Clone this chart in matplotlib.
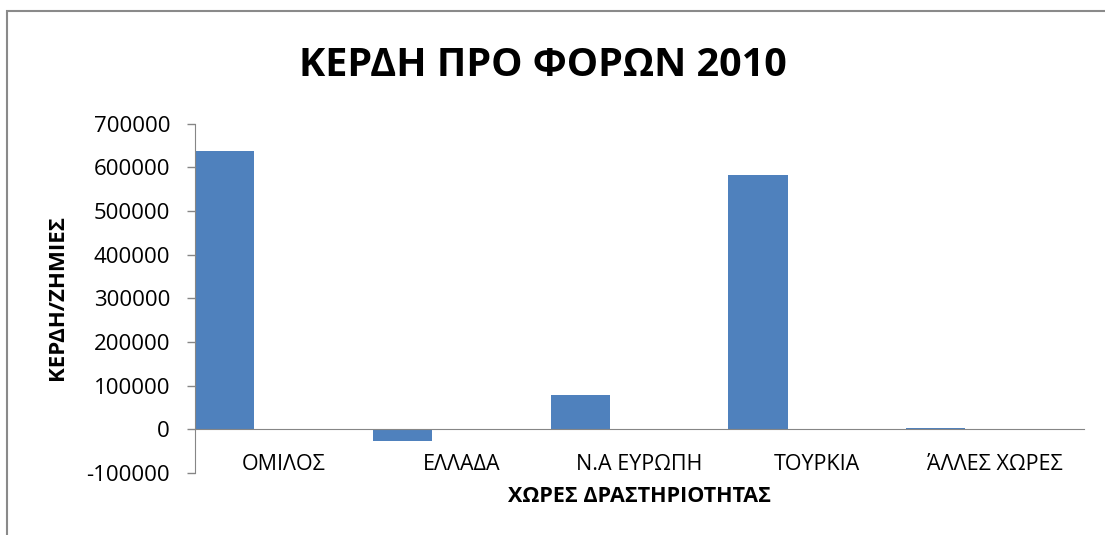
import matplotlib.pyplot as plt
import matplotlib.patches as patches
import numpy as np

title = 'ΚΕΡΔΗ ΠΡΟ ΦΟΡΩΝ 2010'

# profit before tax per region
regions = ['ΟΜΙΛΟΣ', 'ΕΛΛΑΔΑ', 'Ν.Α ΕΥΡΩΠΗ', 'ΤΟΥΡΚΙΑ', 'ΆΛΛΕΣ ΧΩΡΕΣ']
profit = [637500, -27000, 78500, 582000, 4000]
yticks = [-100000, 0, 100000, 200000, 300000, 400000, 500000, 600000, 700000]

plt.rcParams['font.family'] = ['Open Sans', 'DejaVu Sans']
grey = '#868686'

fig = plt.figure(figsize=(11.05, 5.35), dpi=100)
ax = fig.add_axes([0.1765, 0.1159, 0.8045, 0.6532])

x = np.arange(len(regions))
ax.bar(x, profit, width=1/3, align='edge', color='#4F81BD')

ax.set_xlim(0, len(regions))
ax.set_ylim(-100000, 700000)

# category axis sits on the zero line
ax.spines['bottom'].set_position(('data', 0))
ax.spines['bottom'].set_color(grey)
ax.spines['left'].set_color(grey)
ax.spines['top'].set_visible(False)
ax.spines['right'].set_visible(False)

ax.set_yticks(yticks)
ax.set_yticklabels([str(v) for v in yticks])
ax.set_xticks(x + 0.5)
ax.set_xticklabels(regions)
ax.tick_params(axis='x', length=0, pad=18, labelsize=15.5)
ax.tick_params(axis='y', length=6, width=1, color=grey, pad=12, labelsize=16)

fig.text(0.5787, 0.091, 'ΧΩΡΕΣ ΔΡΑΣΤΗΡΙΟΤΗΤΑΣ', ha='center', va='top',
         fontsize=15.5, fontweight='bold')
fig.text(0.052, 0.443, 'ΚΕΡΔΗ/ΖΗΜΙΕΣ', ha='center', va='center',
         rotation=90, fontsize=16, fontweight='bold')
fig.text(0.491, 0.878, title, ha='center', va='center',
         fontsize=28.5, fontweight='bold')

# chart area border
fig.patches.append(patches.Rectangle((0.0063, -0.1), 1.2, 1.0794,
                                     transform=fig.transFigure, fill=False,
                                     edgecolor='#8a8a8a', linewidth=1.5))

fig.savefig('out.png', dpi=100)
